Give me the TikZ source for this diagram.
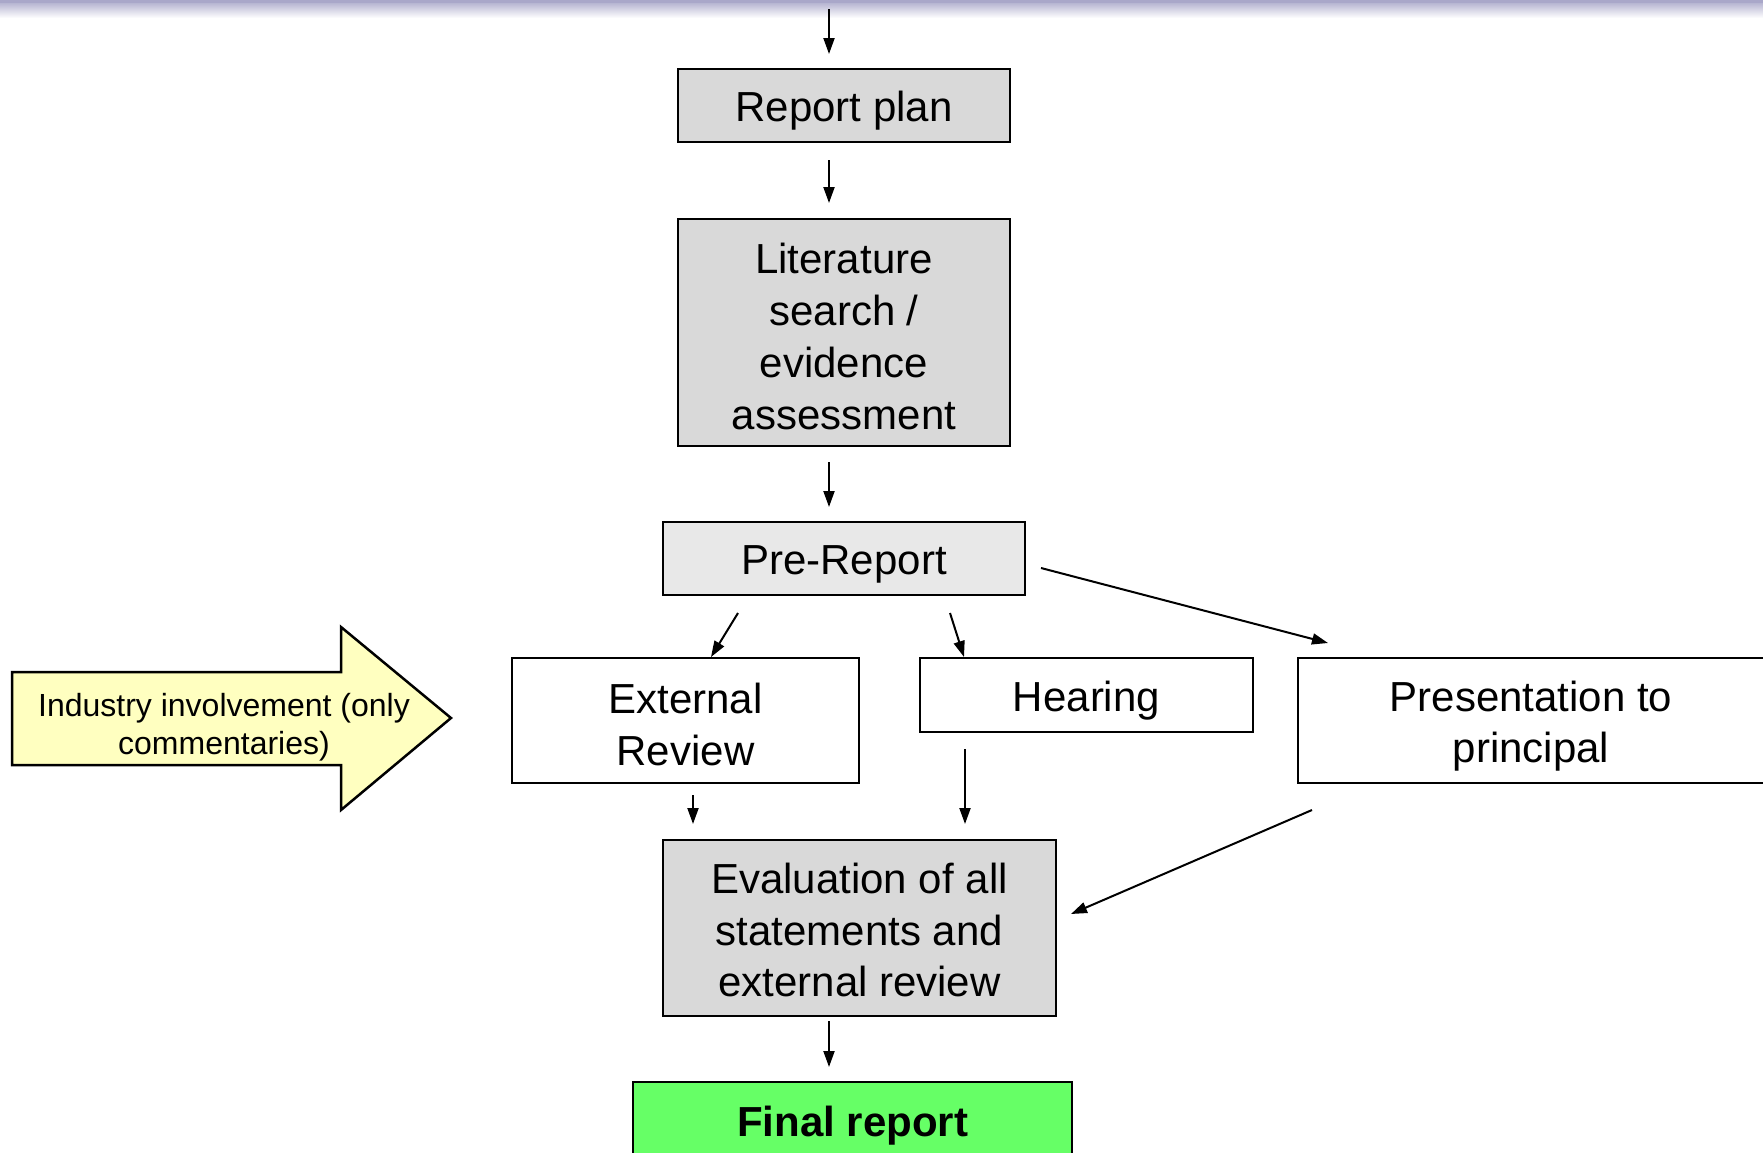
\documentclass[tikz,border=0pt]{standalone}
\usepackage{fontspec}
\setmainfont{Liberation Sans}
\usetikzlibrary{arrows.meta}
\definecolor{boxgray}{HTML}{D9D9D9}
\definecolor{pregray}{HTML}{E8E8E8}
\definecolor{indyellow}{HTML}{FFFFC0}
\definecolor{finalgreen}{HTML}{66FF66}
\definecolor{bandtop}{HTML}{A9A7C9}
\begin{document}
\begin{tikzpicture}[x=1pt,y=-1pt,
  box/.style={draw=black,line width=2.5pt,rectangle,inner sep=0pt},
  txt/.style={inner sep=0pt,align=center,font=\fontsize{42}{51.7}\selectfont},
  flow/.style={line width=2pt,-{Triangle[length=16pt,width=11pt]}},
]
\useasboundingbox (0,0) rectangle (1763,1152);
\begin{scope}
\clip (0,0) rectangle (1763,1152);
% top band
\shade[top color=bandtop,bottom color=white] (0,0) rectangle (1763,18);
\fill[bandtop] (0,0) rectangle (1763,3);

\node[box,fill=boxgray,minimum width=332pt,minimum height=73pt] (plan) at (844,105.5) {};
\node[box,fill=boxgray,minimum width=332pt,minimum height=227pt] (lit) at (844,332.5) {};
\node[box,fill=pregray,minimum width=362pt,minimum height=73pt] (pre) at (844,558.5) {};
\node[box,fill=white,minimum width=347pt,minimum height=125pt] (ext) at (685.5,720.5) {};
\node[box,fill=white,minimum width=333pt,minimum height=74pt] (hear) at (1086.5,695) {};
\node[box,fill=white,minimum width=466pt,minimum height=125pt] (pres) at (1531,720.5) {};
\node[box,fill=boxgray,minimum width=393pt,minimum height=176pt] (eval) at (859.5,928) {};
\node[box,fill=finalgreen,minimum width=439pt,minimum height=78pt] (final) at (852.5,1121) {};

\node[txt] (planT)  at ([yshift=-5pt]plan.center)  {Report plan};
\node[txt] (litT)   at ([yshift=-4pt]lit.center)   {Literature\\search /\\evidence\\assessment};
\node[txt] (preT)   at ([yshift=-5.5pt]pre.center)   {Pre-Report};
\node[txt] (extT)   at ([yshift=-4pt]ext.center)   {External\\Review};
\node[txt] (hearT)  at ([yshift=-5.5pt]hear.center)  {Hearing};
\node[txt] (presT)  at ([yshift=-5.5pt]pres.center)  {Presentation to\\principal};
\node[txt] (evalT)  at ([yshift=-2pt]eval.center)  {Evaluation of all\\statements and\\external review};
\node[txt,font=\fontsize{42}{51.7}\selectfont\bfseries] (finalT) at ([yshift=-5pt]final.center) {Final report};

% industry arrow
\filldraw[fill=indyellow,draw=black,line width=2.5pt,line join=miter]
  (12,672) -- (341,672) -- (341,627) -- (451,718) -- (341,810) -- (341,765) -- (12,765) -- cycle;
\node[align=center,inner sep=0pt,font=\fontsize{32}{38}\selectfont] (ind) at (224,727) {Industry involvement (only\\commentaries)};

% connector end points
\coordinate (a0s) at (829,9);    \coordinate (a0e) at (829,54);
\coordinate (a1s) at (829,160);  \coordinate (a1e) at (829,203);
\coordinate (a2s) at (829,462);  \coordinate (a2e) at (829,507);
\coordinate (a3s) at (738,613);  \coordinate (a3e) at (711,657);
\coordinate (a4s) at (950,613);  \coordinate (a4e) at (964,657);
\coordinate (a5s) at (1041,568); \coordinate (a5e) at (1328,643);
\coordinate (a6s) at (693,795);  \coordinate (a6e) at (693,824);
\coordinate (a7s) at (965,749);  \coordinate (a7e) at (965,824);
\coordinate (a8s) at (1312,810); \coordinate (a8e) at (1071,914);
\coordinate (a9s) at (829,1021); \coordinate (a9e) at (829,1067);

\draw[flow] (a0s) -- (a0e);
\draw[flow] (a1s) -- (a1e);
\draw[flow] (a2s) -- (a2e);
\draw[flow] (a3s) -- (a3e);
\draw[flow] (a4s) -- (a4e);
\draw[flow] (a5s) -- (a5e);
\draw[flow] (a6s) -- (a6e);
\draw[flow] (a7s) -- (a7e);
\draw[flow] (a8s) -- (a8e);
\draw[flow] (a9s) -- (a9e);
\end{scope}
\end{tikzpicture}
\end{document}
